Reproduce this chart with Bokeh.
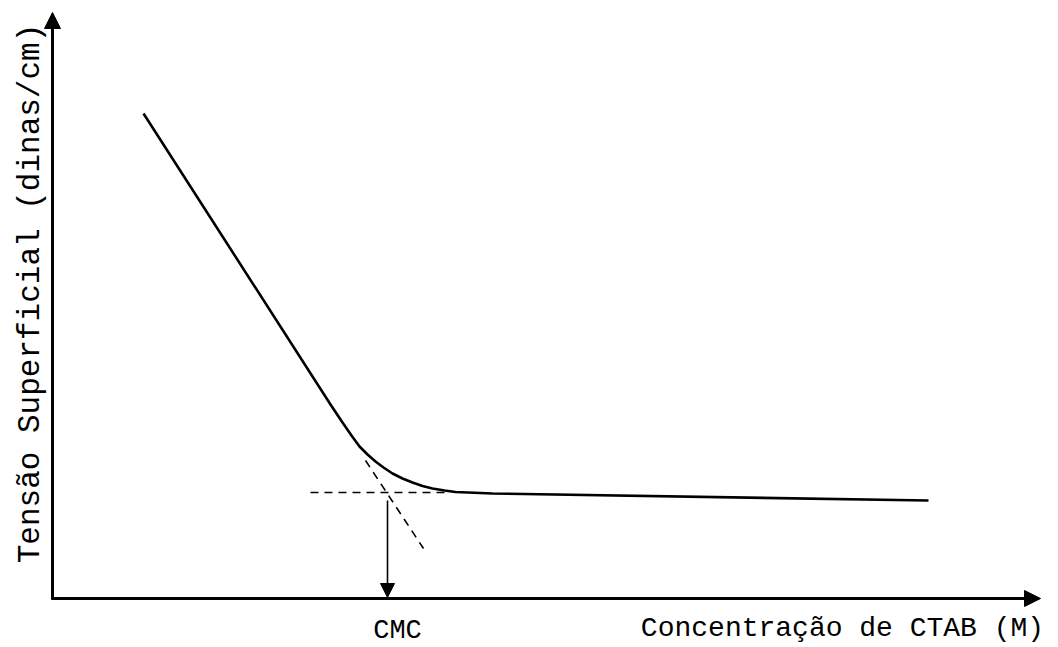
from bokeh.plotting import figure
from bokeh.models import Range1d, Arrow, NormalHead, Label
from bokeh.embed import file_html
from bokeh.resources import INLINE
import math

# Schematic data (arbitrary units; origin at the axes' crossing)
curve_x = [0.91, 2.78, 2.90, 2.99, 3.07, 3.15, 3.23, 3.31, 3.40, 3.50, 3.60, 3.70, 3.80, 3.92, 4.03, 4.40, 8.76]
curve_y = [4.85, 1.94, 1.76, 1.63, 1.52, 1.44, 1.37, 1.31, 1.25, 1.20, 1.16, 1.125, 1.10, 1.08, 1.065, 1.05, 0.98]

hline_x = [2.58, 3.98]
hline_y = [1.06, 1.06]

tangent_x = [3.13, 3.71]
tangent_y = [1.38, 0.50]

cmc_x = 3.35
cmc_top = 0.98

x_label = "Concentração de CTAB (M)"
y_label = "Tensão Superficial (dinas/cm)"
cmc_label = "CMC"

FONT = "Liberation Mono"

p = figure(width=1058, height=647, output_backend="svg", toolbar_location=None,
           x_range=Range1d(-0.52, 10.06), y_range=Range1d(-0.49, 5.98),
           min_border=0, min_border_left=0, min_border_right=0,
           min_border_top=0, min_border_bottom=0)
p.axis.visible = False
p.grid.visible = False
p.outline_line_color = None
p.background_fill_color = "white"
p.border_fill_color = "white"

# Axes with arrow heads
p.add_layout(Arrow(end=NormalHead(size=16, fill_color="black", line_color="black"),
                   x_start=0, y_start=-0.01, x_end=0, y_end=5.86,
                   line_width=3, line_color="black"))
p.add_layout(Arrow(end=NormalHead(size=16, fill_color="black", line_color="black"),
                   x_start=-0.01, y_start=0.0, x_end=9.88, y_end=0.0,
                   line_width=3, line_color="black"))

# Main curve
p.line(curve_x, curve_y, line_width=2.6, line_color="black", line_join="round")

# Dashed construction lines
p.line(hline_x, hline_y, line_width=1.6, line_color="black", line_dash="8 6")
p.line(tangent_x, tangent_y, line_width=1.6, line_color="black", line_dash="8 6")

# CMC arrow
p.add_layout(Arrow(end=NormalHead(size=14, fill_color="black", line_color="black"),
                   x_start=cmc_x, y_start=cmc_top, x_end=cmc_x, y_end=0.01,
                   line_width=1.6, line_color="black"))

# Labels
p.add_layout(Label(x=3.45, y=-0.32, text=cmc_label, text_font=FONT, text_font_size="27px",
                   text_align="center", text_baseline="middle", text_color="black"))
p.add_layout(Label(x=7.90, y=-0.30, text=x_label, text_font=FONT, text_font_size="28px",
                   text_align="center", text_baseline="middle", text_color="black"))
p.add_layout(Label(x=-0.22, y=3.05, text=y_label, text_font=FONT, text_font_size="31px",
                   angle=math.pi / 2, text_align="center", text_baseline="middle",
                   text_color="black"))

open("out.html", "w").write(file_html(p, INLINE))
